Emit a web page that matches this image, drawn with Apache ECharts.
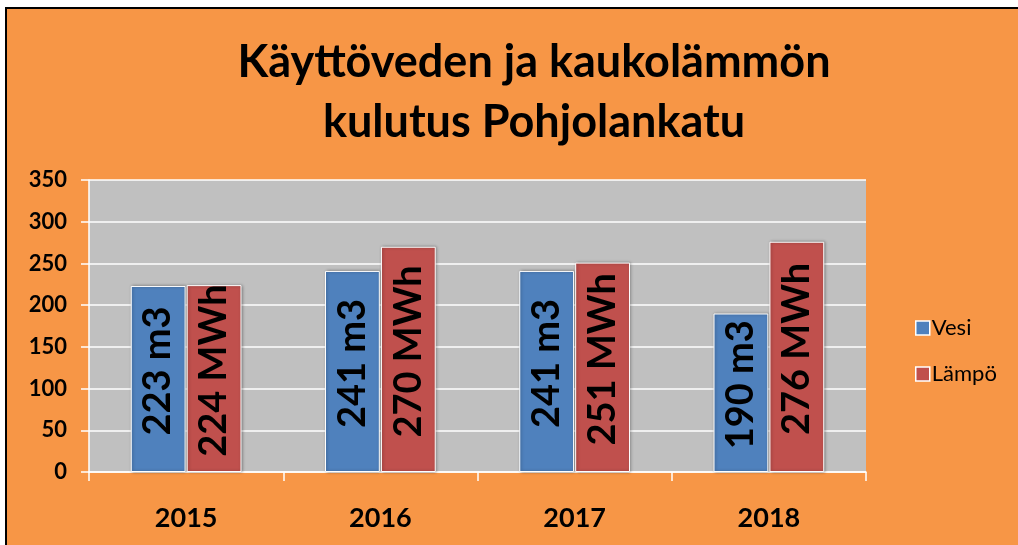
<!DOCTYPE html>
<html>
<head>
<meta charset="utf-8">
<script src="https://cdn.jsdelivr.net/npm/echarts@6/dist/echarts.min.js"></script>
<style>
    html,body{margin:0;padding:0;background:#fff;}
    #main{width:1018px;height:545px;}
</style>
</head>
<body>
<div id="main"></div>
<script>
    var years = ['2015', '2016', '2017', '2018']
    var vesiData = [223, 241, 241, 190]
    var lampoData = [224, 270, 251, 276]
    var yTicks = { min: 0, max: 350, interval: 50 }

    var myChart = echarts.init(document.getElementById('main'))
    var labelFont = 'Lato, "Open Sans", sans-serif'

    var option = {
        backgroundColor: '#ffffff',
        graphic: [{
            type: 'rect',
            z: -10,
            silent: true,
            shape: { x: 6, y: 8, width: 1100, height: 600 },
            style: { fill: '#F79646', stroke: '#000000', lineWidth: 2 }
        }],
        title: {
            text: 'Käyttöveden ja kaukolämmön\nkulutus Pohjolankatu',
            left: 529,
            textAlign: 'center',
            top: 27,
            textStyle: {
                fontFamily: labelFont,
                fontWeight: 'bold',
                fontSize: 45,
                lineHeight: 60,
                color: '#000'
            }
        },
        legend: {
            orient: 'vertical',
            left: 910,
            top: 312,
            itemWidth: 14,
            itemHeight: 14,
            itemGap: 24,
            icon: 'rect',
            itemStyle: { borderColor: '#fff', borderWidth: 1.5 },
            textStyle: { fontFamily: labelFont, fontSize: 22, color: '#000', padding: [0, 0, 0, -3] },
            data: ['Vesi', 'Lämpö']
        },
        grid: {
            left: 89,
            top: 180,
            right: 152,
            bottom: 73,
            show: true,
            backgroundColor: '#C0C0C0',
            borderWidth: 0,
            containLabel: false
        },
        xAxis: {
            type: 'category',
            data: years,
            axisLine: { show: true, lineStyle: { color: '#ffffff', width: 1.5 } },
            axisTick: { show: true, length: 9, lineStyle: { color: '#ffffff', width: 1.5 } },
            axisLabel: {
                margin: 33,
                fontFamily: labelFont,
                fontWeight: 'bold',
                fontSize: 27,
                color: '#000'
            }
        },
        yAxis: {
            type: 'value',
            min: yTicks.min,
            max: yTicks.max,
            interval: yTicks.interval,
            axisLine: { show: true, lineStyle: { color: '#ffffff', width: 1.5 } },
            axisTick: { show: true, length: 8, lineStyle: { color: '#ffffff', width: 1.5 } },
            splitLine: { show: true, lineStyle: { color: '#ffffff', width: 1.5 } },
            axisLabel: {
                margin: 22,
                fontFamily: labelFont,
                fontWeight: 'bold',
                fontSize: 22,
                color: '#000'
            }
        },
        series: [
            {
                name: 'Vesi',
                type: 'bar',
                data: vesiData,
                barGap: '2%',
                barCategoryGap: '43%',
                itemStyle: {
                    color: '#4F81BD',
                    borderColor: '#ffffff',
                    borderWidth: 1,
                    shadowBlur: 3,
                    shadowColor: 'rgba(0,0,0,0.35)',
                    shadowOffsetX: 1,
                    shadowOffsetY: 0
                },
                label: {
                    show: true,
                    position: 'inside',
                    rotate: 90,
                    offset: [8, 0],
                    fontFamily: labelFont,
                    fontWeight: 'bold',
                    fontSize: 38,
                    color: '#000',
                    formatter: function (p) { return p.value + ' m3' }
                }
            },
            {
                name: 'Lämpö',
                type: 'bar',
                data: lampoData,
                barGap: '2%',
                barCategoryGap: '43%',
                itemStyle: {
                    color: '#C0504D',
                    borderColor: '#ffffff',
                    borderWidth: 1,
                    shadowBlur: 3,
                    shadowColor: 'rgba(0,0,0,0.35)',
                    shadowOffsetX: 1,
                    shadowOffsetY: 0
                },
                label: {
                    show: true,
                    position: 'inside',
                    rotate: 90,
                    offset: [8, 0],
                    fontFamily: labelFont,
                    fontWeight: 'bold',
                    fontSize: 38,
                    color: '#000',
                    formatter: function (p) { return p.value + ' MWh' }
                }
            }
        ]
    }
    myChart.setOption(option)
</script>
</body>
</html>
